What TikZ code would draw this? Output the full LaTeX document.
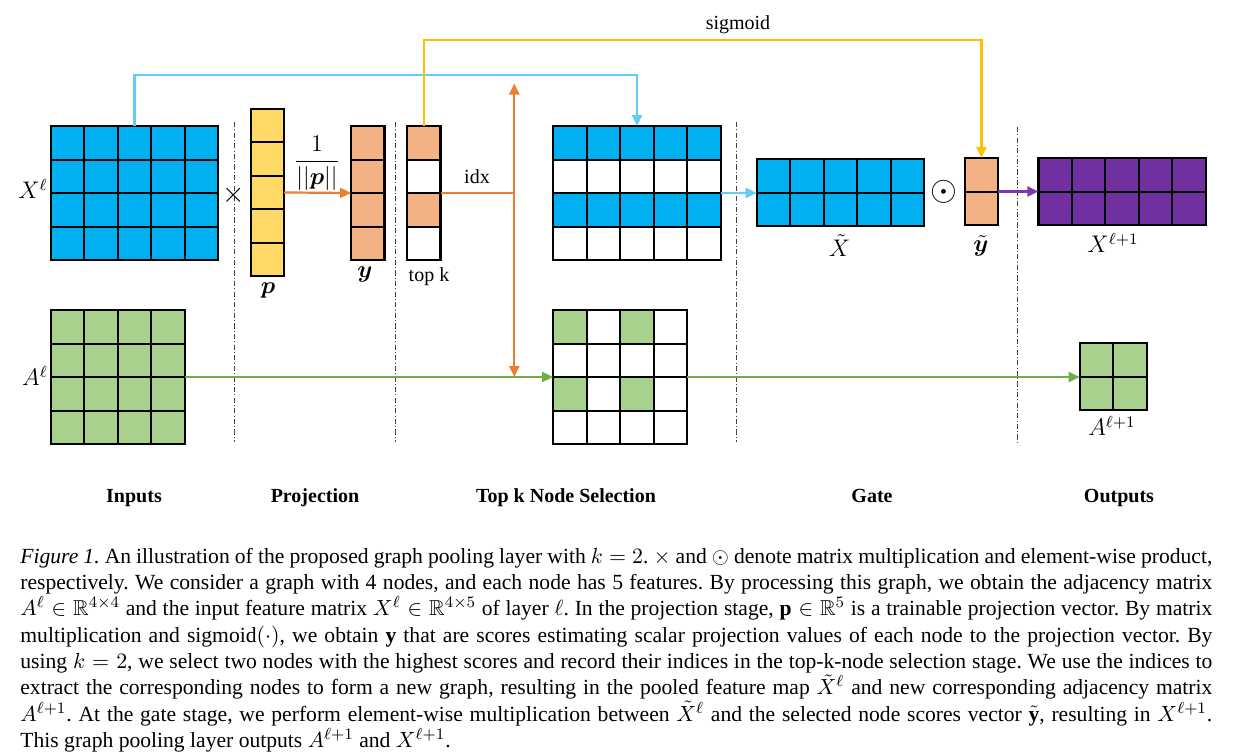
\documentclass[tikz,border=0pt]{standalone}
\usepackage{amsmath,amssymb,bm}
\usepackage{fontspec}
\setmainfont{Liberation Serif}
\usetikzlibrary{arrows.meta}

% cell fills
\definecolor{featblue}{HTML}{00B0F0}
\definecolor{projyellow}{HTML}{FFD966}
\definecolor{scoreorange}{HTML}{F4B183}
\definecolor{adjgreen}{HTML}{A9D18E}
\definecolor{outpurple}{HTML}{7030A0}
% connector colours
\definecolor{lnblue}{HTML}{62CDF4}
\definecolor{lnyellow}{HTML}{FFC000}
\definecolor{lnorange}{HTML}{ED7D31}
\definecolor{lngreen}{HTML}{70AD47}
\definecolor{lnpurple}{HTML}{7B3BB0}

\tikzset{
  matbox/.style={draw=black, line width=1.1pt, inner sep=0pt, outer sep=0pt, anchor=north west},
  cellline/.style={draw=black, line width=1pt},
  stagesep/.style={draw=black!75, line width=0.5pt, dash pattern=on 2.6pt off 1.1pt on 0.5pt off 1.1pt},
  link/.style={line width=1.1pt},
  tip/.style={-{Triangle[length=5.5pt,width=5pt]}},
  mlabel/.style={inner sep=0pt, font=\fontsize{12}{14}\selectfont},
  tlabel/.style={inner sep=0pt, anchor=base, font=\fontsize{10}{12}\selectfont},
  stagelabel/.style={inner sep=0pt, anchor=base, font=\fontsize{10}{12}\selectfont\bfseries},
}

% grid of a matrix: name, left, top, columns, rows (cell = 33.5 units)
\newcommand\matgrid[5]{%
  \ifnum#4>1
    \foreach \ci in {2,...,#4}
      \draw[cellline] ({#2+(\ci-1)*33.5},#3) -- ++(0,{#5*33.5});
  \fi
  \ifnum#5>1
    \foreach \ri in {2,...,#5}
      \draw[cellline] (#2,{#3+(\ri-1)*33.5}) -- ++({#4*33.5},0);
  \fi
  \node[matbox, minimum width={#4*16.75pt}, minimum height={#5*16.75pt}] (#1) at (#2,#3) {};
}
% single cell: colour, left, top, column, row
\newcommand\cellfill[5]{%
  \fill[#1] ({#2+(#4-1)*33.5},{#3+(#5-1)*33.5}) rectangle ++(33.5,33.5);
}
% whole block: colour, left, top, columns, rows
\newcommand\blockfill[5]{%
  \fill[#1] (#2,#3) rectangle ++({#4*33.5},{#5*33.5});
}

\begin{document}
\begin{tikzpicture}[x=0.5pt, y=-0.5pt]
\useasboundingbox (0,0) rectangle (1237,755);

% ---- stage separators
\draw[stagesep] (234,122) -- (234,442);
\draw[stagesep] (395.5,122) -- (395.5,442);
\draw[stagesep] (736,122) -- (736,442);
\draw[stagesep] (1017.5,127) -- (1017.5,445);

% ---- inputs
\blockfill{featblue}{50.7}{126}{5}{4}
\matgrid{X}{50.7}{126}{5}{4}
\blockfill{adjgreen}{50.6}{310}{4}{4}
\matgrid{A}{50.6}{310}{4}{4}

% ---- projection
\blockfill{projyellow}{250.7}{108.7}{1}{5}
\matgrid{P}{250.7}{108.7}{1}{5}
\blockfill{scoreorange}{351}{126}{1}{4}
\matgrid{Y}{351}{126}{1}{4}

% ---- top k selection
\cellfill{scoreorange}{407}{126}{1}{1}
\cellfill{scoreorange}{407}{126}{1}{3}
\matgrid{T}{407}{126}{1}{4}

\blockfill{featblue}{553.3}{126}{5}{1}
\blockfill{featblue}{553.3}{193}{5}{1}
\matgrid{SX}{553.3}{126}{5}{4}

\cellfill{adjgreen}{553}{310}{1}{1}
\cellfill{adjgreen}{553}{310}{3}{1}
\cellfill{adjgreen}{553}{310}{1}{3}
\cellfill{adjgreen}{553}{310}{3}{3}
\matgrid{SA}{553}{310}{4}{4}

% ---- gate
\blockfill{featblue}{756.7}{159}{5}{2}
\matgrid{XT}{756.7}{159}{5}{2}
\blockfill{scoreorange}{964.7}{158}{1}{2}
\matgrid{YT}{964.7}{158}{1}{2}

% ---- outputs
\blockfill{outpurple}{1038.4}{158}{5}{2}
\matgrid{XO}{1038.4}{158}{5}{2}
\blockfill{adjgreen}{1079.7}{343.3}{2}{2}
\matgrid{AO}{1079.7}{343.3}{2}{2}

% ---- labels
\node[mlabel] (xl) at (33,189) {$X^{\ell}$};
\node[mlabel] (al) at (35,376) {$A^{\ell}$};
\node[inner sep=0pt, font=\fontsize{15}{17}\selectfont] (times) at (234,195) {$\times$};
\node[mlabel] (pl) at (268,290) {$\boldsymbol{p}$};
\node[inner sep=0pt, font=\fontsize{11.5}{13}\selectfont] (norm) at (317,163) {$\dfrac{1}{||\boldsymbol{p}||}$};
\node[mlabel] (yl) at (365,274) {$\boldsymbol{y}$};
\node[tlabel] (tkl) at (429,281) {top k};
\node[tlabel] (idxl) at (477,183) {idx};
\node[tlabel] (sigl) at (738,29) {sigmoid};
\node[mlabel] (xtl) at (839.5,246) {$\tilde{X}$};
\node[inner sep=0pt, font=\fontsize{16}{18}\selectfont] (odot) at (944,192) {$\odot$};
\node[mlabel] (ytl) at (981,246) {$\tilde{\boldsymbol{y}}$};
\node[mlabel] (xol) at (1113,243) {$X^{\ell+1}$};
\node[mlabel] (aol) at (1112,426) {$A^{\ell+1}$};

\node[stagelabel] (s1) at (134,502) {Inputs};
\node[stagelabel] (s2) at (315,502) {Projection};
\node[stagelabel] (s3) at (566,502) {Top k Node Selection};
\node[stagelabel] (s4) at (872,502) {Gate};
\node[stagelabel] (s5) at (1119,502) {Outputs};

% ---- connectors
\coordinate (bluebend) at (300,74.7);
\draw[link, lnblue, tip] (X.north) |- (bluebend) -| (SX.north);
\coordinate (yellowbend) at (700,40);
\draw[link, lnyellow, tip] (T.north) |- (yellowbend) -| (YT.north);

\draw[link, lnorange, tip] (P.east) -- (Y.west);
\coordinate (idxjoin) at (514.3,193);
\coordinate (idxtop) at (514.3,83.5);
\coordinate (idxbot) at (514.3,377);
\draw[link, lnorange] (T.east) -- (idxjoin);
\draw[link, lnorange, {Triangle[length=5.5pt,width=5pt]}-{Triangle[length=5.5pt,width=5pt]}] (idxtop) -- (idxbot);

\draw[link, lnblue, tip] (SX.east) -- (SX.east -| XT.west);
\draw[link, lnpurple, tip] (YT.east) -- (YT.east -| XO.west);
\draw[link, lngreen, tip] (A.east) -- (SA.west);
\draw[link, lngreen, tip] (SA.east) -- (SA.east -| AO.west);

% ---- caption
\node[anchor=base west, text width=596pt, align=justify, inner sep=0pt,
      font=\fontsize{10.8}{13.15}\selectfont\frenchspacing] (cap) at (20,563.3) {%
\textit{Figure 1.} An illustration of the proposed graph pooling layer with $k=2$. $\times$ and $\odot$ denote matrix multiplication and element-wise product,\linebreak
respectively. We consider a graph with 4 nodes, and each node has 5 features. By processing this graph, we obtain the adjacency matrix\linebreak
$A^{\ell}\in\mathbb{R}^{4\times4}$ and the input feature matrix $X^{\ell}\in\mathbb{R}^{4\times5}$ of layer $\ell$. In the projection stage, $\mathbf{p}\in\mathbb{R}^{5}$ is a trainable projection vector. By matrix\linebreak
multiplication and sigmoid$(\cdot)$, we obtain $\mathbf{y}$ that are scores estimating scalar projection values of each node to the projection vector. By\linebreak
using $k=2$, we select two nodes with the highest scores and record their indices in the top-k-node selection stage. We use the indices to\linebreak
extract the corresponding nodes to form a new graph, resulting in the pooled feature map $\tilde{X}^{\ell}$ and new corresponding adjacency matrix\linebreak
$A^{\ell+1}$. At the gate stage, we perform element-wise multiplication between $\tilde{X}^{\ell}$ and the selected node scores vector $\tilde{\mathbf{y}}$, resulting in $X^{\ell+1}$.\linebreak
This graph pooling layer outputs $A^{\ell+1}$ and $X^{\ell+1}$.};
\end{tikzpicture}
\end{document}
